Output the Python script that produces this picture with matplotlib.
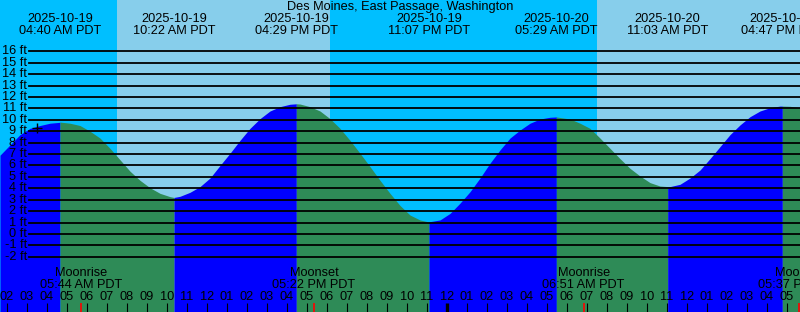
import pandas as pd
import matplotlib
matplotlib.use("Agg")
import matplotlib.pyplot as plt
import matplotlib.transforms as mtransforms

plt.rcParams['font.family'] = ['Liberation Sans', 'DejaVu Sans']

station = "Des Moines, East Passage, Washington"

# tide height every 30 minutes from 01:40 AM
curve_start = "2025-10-19 01:40"
curve_ft = [6.9, 7.8, 8.7, 9.25, 9.5, 9.7, 9.78, 9.7, 9.5, 9.0,
            8.4, 7.5, 6.5, 5.5, 4.7, 4.05, 3.56, 3.27, 3.3, 3.65,
            4.15, 4.9, 6.0, 7.07, 8.2, 9.25, 10.1, 10.77, 11.15, 11.36,
            11.38, 11.15, 10.77, 10.1, 9.25, 8.2, 7.07, 5.9, 4.7, 3.56,
            2.5, 1.66, 1.23, 1.08, 1.23, 1.8, 2.7, 3.7, 4.9, 6.2,
            7.36, 8.4, 9.1, 9.7, 10.07, 10.22, 10.2, 10.07, 9.7, 9.25,
            8.4, 7.5, 6.6, 5.75, 5.08, 4.5, 4.2, 4.15, 4.35, 4.9,
            5.6, 6.6, 7.65, 8.7, 9.55, 10.27, 10.77, 11.06, 11.2, 11.18,
            11.06]

# high / low tide events
tide_events = ["2025-10-19 04:40", "2025-10-19 10:22", "2025-10-19 16:29",
               "2025-10-19 23:07", "2025-10-20 05:29", "2025-10-20 11:03",
               "2025-10-20 16:47"]
tide_ft = [9.8, 3.2, 11.4, 1.05, 10.25, 4.15, 11.2]

moon_events = ["2025-10-19 05:44", "2025-10-19 17:22",
               "2025-10-20 06:51", "2025-10-20 17:37"]
moon_names = ["Moonrise", "Moonset", "Moonrise", "Moonset"]

sunrise = ["2025-10-19 07:31", "2025-10-20 07:31"]
sunset = ["2025-10-19 18:10", "2025-10-20 18:10"]

now_time = "2025-10-19 03:32"
now_ft = 9.28

feet_lines = list(range(-2, 17))

base = pd.Timestamp("2025-10-19 00:00")


def hours(stamps):
    return [(pd.Timestamp(s) - base) / pd.Timedelta(hours=1) for s in stamps]


t0 = hours([curve_start])[0]
curve_t = [t0 + 0.5 * i for i in range(len(curve_ft))]
tide_t = hours(tide_events)
moon_t = hours(moon_events)

# merge readings with the tide events so the curve passes through them
pts = sorted(zip(curve_t + tide_t, curve_ft + tide_ft))
all_t = [p[0] for p in pts]
all_h = [p[1] for p in pts]

x_lo, x_hi = t0, t0 + 40
y_lo, y_hi = -6.83, 20.49
fs = 9.2

fig = plt.figure(figsize=(8, 3.12), dpi=100)
ax = fig.add_axes([0, 0, 1, 1])
ax.set_xlim(x_lo, x_hi)
ax.set_ylim(y_lo, y_hi)
ax.axis('off')
fig.patch.set_facecolor('#00BFFF')
ax.axvspan(x_lo, x_hi, color='#00BFFF', zorder=0)
for r, s in zip(hours(sunrise), hours(sunset)):
    ax.axvspan(r, s, color='#87CEEB', lw=0, zorder=0)

# flood (blue) and ebb (green) fills
bounds = [x_lo] + tide_t + [x_hi]
for a, b in zip(bounds[:-1], bounds[1:]):
    seg = [(t, h) for t, h in zip(all_t, all_h) if a <= t <= b]
    st = [p[0] for p in seg]
    sh = [p[1] for p in seg]
    rising = sh[-1] > sh[0]
    ax.fill_between(st, sh, y_lo - 5, color='#0000FF' if rising else '#2E8B57',
                    lw=0, zorder=1)

ylab = mtransforms.blended_transform_factory(ax.transAxes, ax.transData)
for f in feet_lines:
    ax.axhline(f, xmin=29 / 800, xmax=1, color='black', lw=1.3, zorder=2)
    ax.text(27 / 800, f, f"{f} ft", transform=ylab,
            ha='right', va='center', fontsize=fs, zorder=3)

ax.plot([hours([now_time])[0]], [now_ft], marker='+', color='black',
        markersize=7, mew=1, zorder=3)

trans = mtransforms.blended_transform_factory(ax.transData, ax.transAxes)
H = 312.0
fig.text(0.5, 1 - 7 / H, station, ha='center', va='center', fontsize=fs)
for s, t in zip(tide_events, tide_t):
    ts = pd.Timestamp(s)
    ax.text(t, 1 - 19.5 / H, ts.strftime("%Y-%m-%d"), transform=trans,
            ha='center', va='center', fontsize=fs)
    ax.text(t, 1 - 31.5 / H, ts.strftime("%I:%M %p PDT"), transform=trans,
            ha='center', va='center', fontsize=fs)

for s, t, name in zip(moon_events, moon_t, moon_names):
    ts = pd.Timestamp(s)
    ax.text(t, 1 - 273.5 / H, name, transform=trans,
            ha='center', va='center', fontsize=fs)
    ax.text(t, 1 - 285.5 / H, ts.strftime("%I:%M %p PDT"), transform=trans,
            ha='center', va='center', fontsize=fs)
    ax.plot([t, t], [0, 9 / H], transform=trans, color='red', lw=1.2,
            solid_capstyle='butt', zorder=3)

# hour labels and ticks
for h in range(2, 43):
    lab = f"{(h % 12) or 12:02d}"
    ax.text(h, 1 - 297 / H, lab, transform=trans, ha='center', va='center',
            fontsize=fs)
    lw = 2.4 if h % 24 == 0 else 0.8
    ax.plot([h, h], [0, 9 / H], transform=trans, color='black', lw=lw,
            solid_capstyle='butt', zorder=3)

fig.savefig("out.png", dpi=100, facecolor=fig.get_facecolor())
